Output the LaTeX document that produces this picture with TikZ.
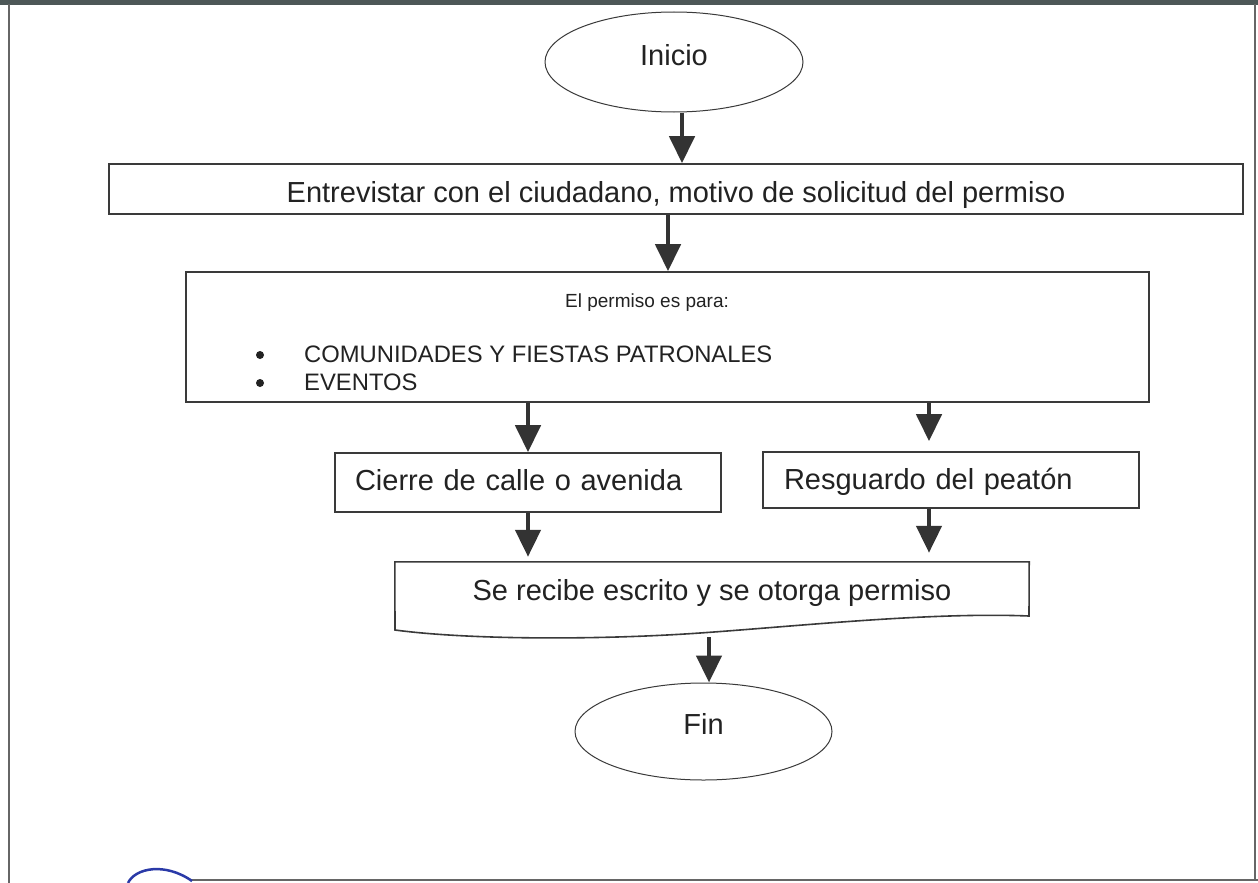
\documentclass[tikz,border=0pt]{standalone}
\usepackage{fontspec}
\setmainfont{Liberation Sans}
\usetikzlibrary{shapes.geometric,arrows.meta,calc}
\definecolor{linegray}{HTML}{3A3A3A}
\definecolor{arrgray}{HTML}{333333}
\definecolor{txt}{HTML}{222222}
\definecolor{framegray}{HTML}{666666}
\definecolor{topband}{HTML}{4D5757}
\definecolor{stampblue}{HTML}{2A3AA8}
\begin{document}
\begin{tikzpicture}[x=1pt,y=-1pt,
  box/.style={draw=linegray, line width=1.6pt, inner sep=0pt},
  oval/.style={ellipse, draw=linegray, line width=1pt, inner sep=0pt},
  big/.style={font=\fontsize{29}{34}\selectfont, text=txt},
  mid/.style={font=\fontsize{23.8}{28}\selectfont, text=txt, inner sep=0pt, anchor=base west},
  small/.style={font=\fontsize{19}{22}\selectfont, text=txt, inner sep=0pt, anchor=base west},
  dot/.style={circle, fill=txt, inner sep=0pt, minimum size=8pt},
  arr/.style={draw=arrgray, line width=4.5pt, -{Triangle[width=25pt,length=27pt]}},
  frame/.style={draw=framegray, line width=2pt},
  stamp/.style={draw=stampblue, line width=2.5pt}
]
\useasboundingbox (0,0) rectangle (1258,883);
\fill[white] (0,0) rectangle (1258,883);
% page frame
\fill[topband] (0,0) rectangle (1258,5);
\draw[frame] (9,4) -- (9,883);
\draw[frame] (1255,4) -- (1255,880);
\draw[frame] (190,880) -- (1258,880);
\draw[stamp] (128,883) .. controls (135,868) and (165,862) .. (192,881);

% nodes
\node[oval, minimum width=258pt, minimum height=100pt, big, text height=8pt, text depth=0pt] (inicio) at (674,62) {Inicio};

\node[box, minimum width=1134pt, minimum height=50pt, big, text height=26pt, text depth=0pt] (r1) at (676,189) {Entrevistar con el ciudadano, motivo de solicitud del permiso};

\node[box, minimum width=963pt, minimum height=130pt] (r2) at (667.5,337) {};
\node[small] (t2) at (565,307) {El permiso es para:};
\node[dot] (b1) at (260,355) {};
\node[dot] (b2) at (260,383) {};
\node[mid] (l1) at (304,362) {COMUNIDADES Y FIESTAS PATRONALES};
\node[mid] (l2) at (304,390) {EVENTOS};

\node[box, minimum width=386pt, minimum height=59pt, big, text width=346pt, align=left, inner xsep=20pt, text height=15pt, text depth=0pt] (cierre) at (528,482.5) {Cierre de calle o avenida};

\node[box, minimum width=376pt, minimum height=56pt, big, text width=334pt, align=left, inner xsep=21pt, text height=18pt, text depth=0pt] (resg) at (951,480) {Resguardo del peatón};
\coordinate (rx) at (929,0);

\node[big, minimum width=634pt, minimum height=56pt, inner sep=0pt, text height=20pt, text depth=0pt] (doc) at (712,590) {Se recibe escrito y se otorga permiso};
\draw[box] (doc.north west) -- (doc.north east) -- (1029,616)
  .. controls (930,612) and (800,626) .. (700,633)
  .. controls (600,640) and (470,640) .. (395,630) -- cycle;
\coordinate (docb) at (709,637);

\node[oval, minimum width=257pt, minimum height=97pt, big, text height=6pt, text depth=0pt] (fin) at (703.5,731.5) {Fin};

% connectors
\draw[arr] ([xshift=8pt]inicio.south) -- ([xshift=6pt]r1.north);
\draw[arr] ([xshift=-8pt]r1.south) -- ([xshift=0.5pt]r2.north);
\draw[arr] (r2.south -| cierre.north) -- (cierre.north);
\draw[arr] (r2.south -| rx) -- ([yshift=10pt]resg.north -| rx);
\draw[arr] (cierre.south) -- ([yshift=5pt]cierre.south |- doc.north);
\draw[arr] (resg.south -| rx) -- ([yshift=9pt]doc.north -| rx);
\draw[arr] (docb) -- ([xshift=5.5pt]fin.north);
\end{tikzpicture}
\end{document}
